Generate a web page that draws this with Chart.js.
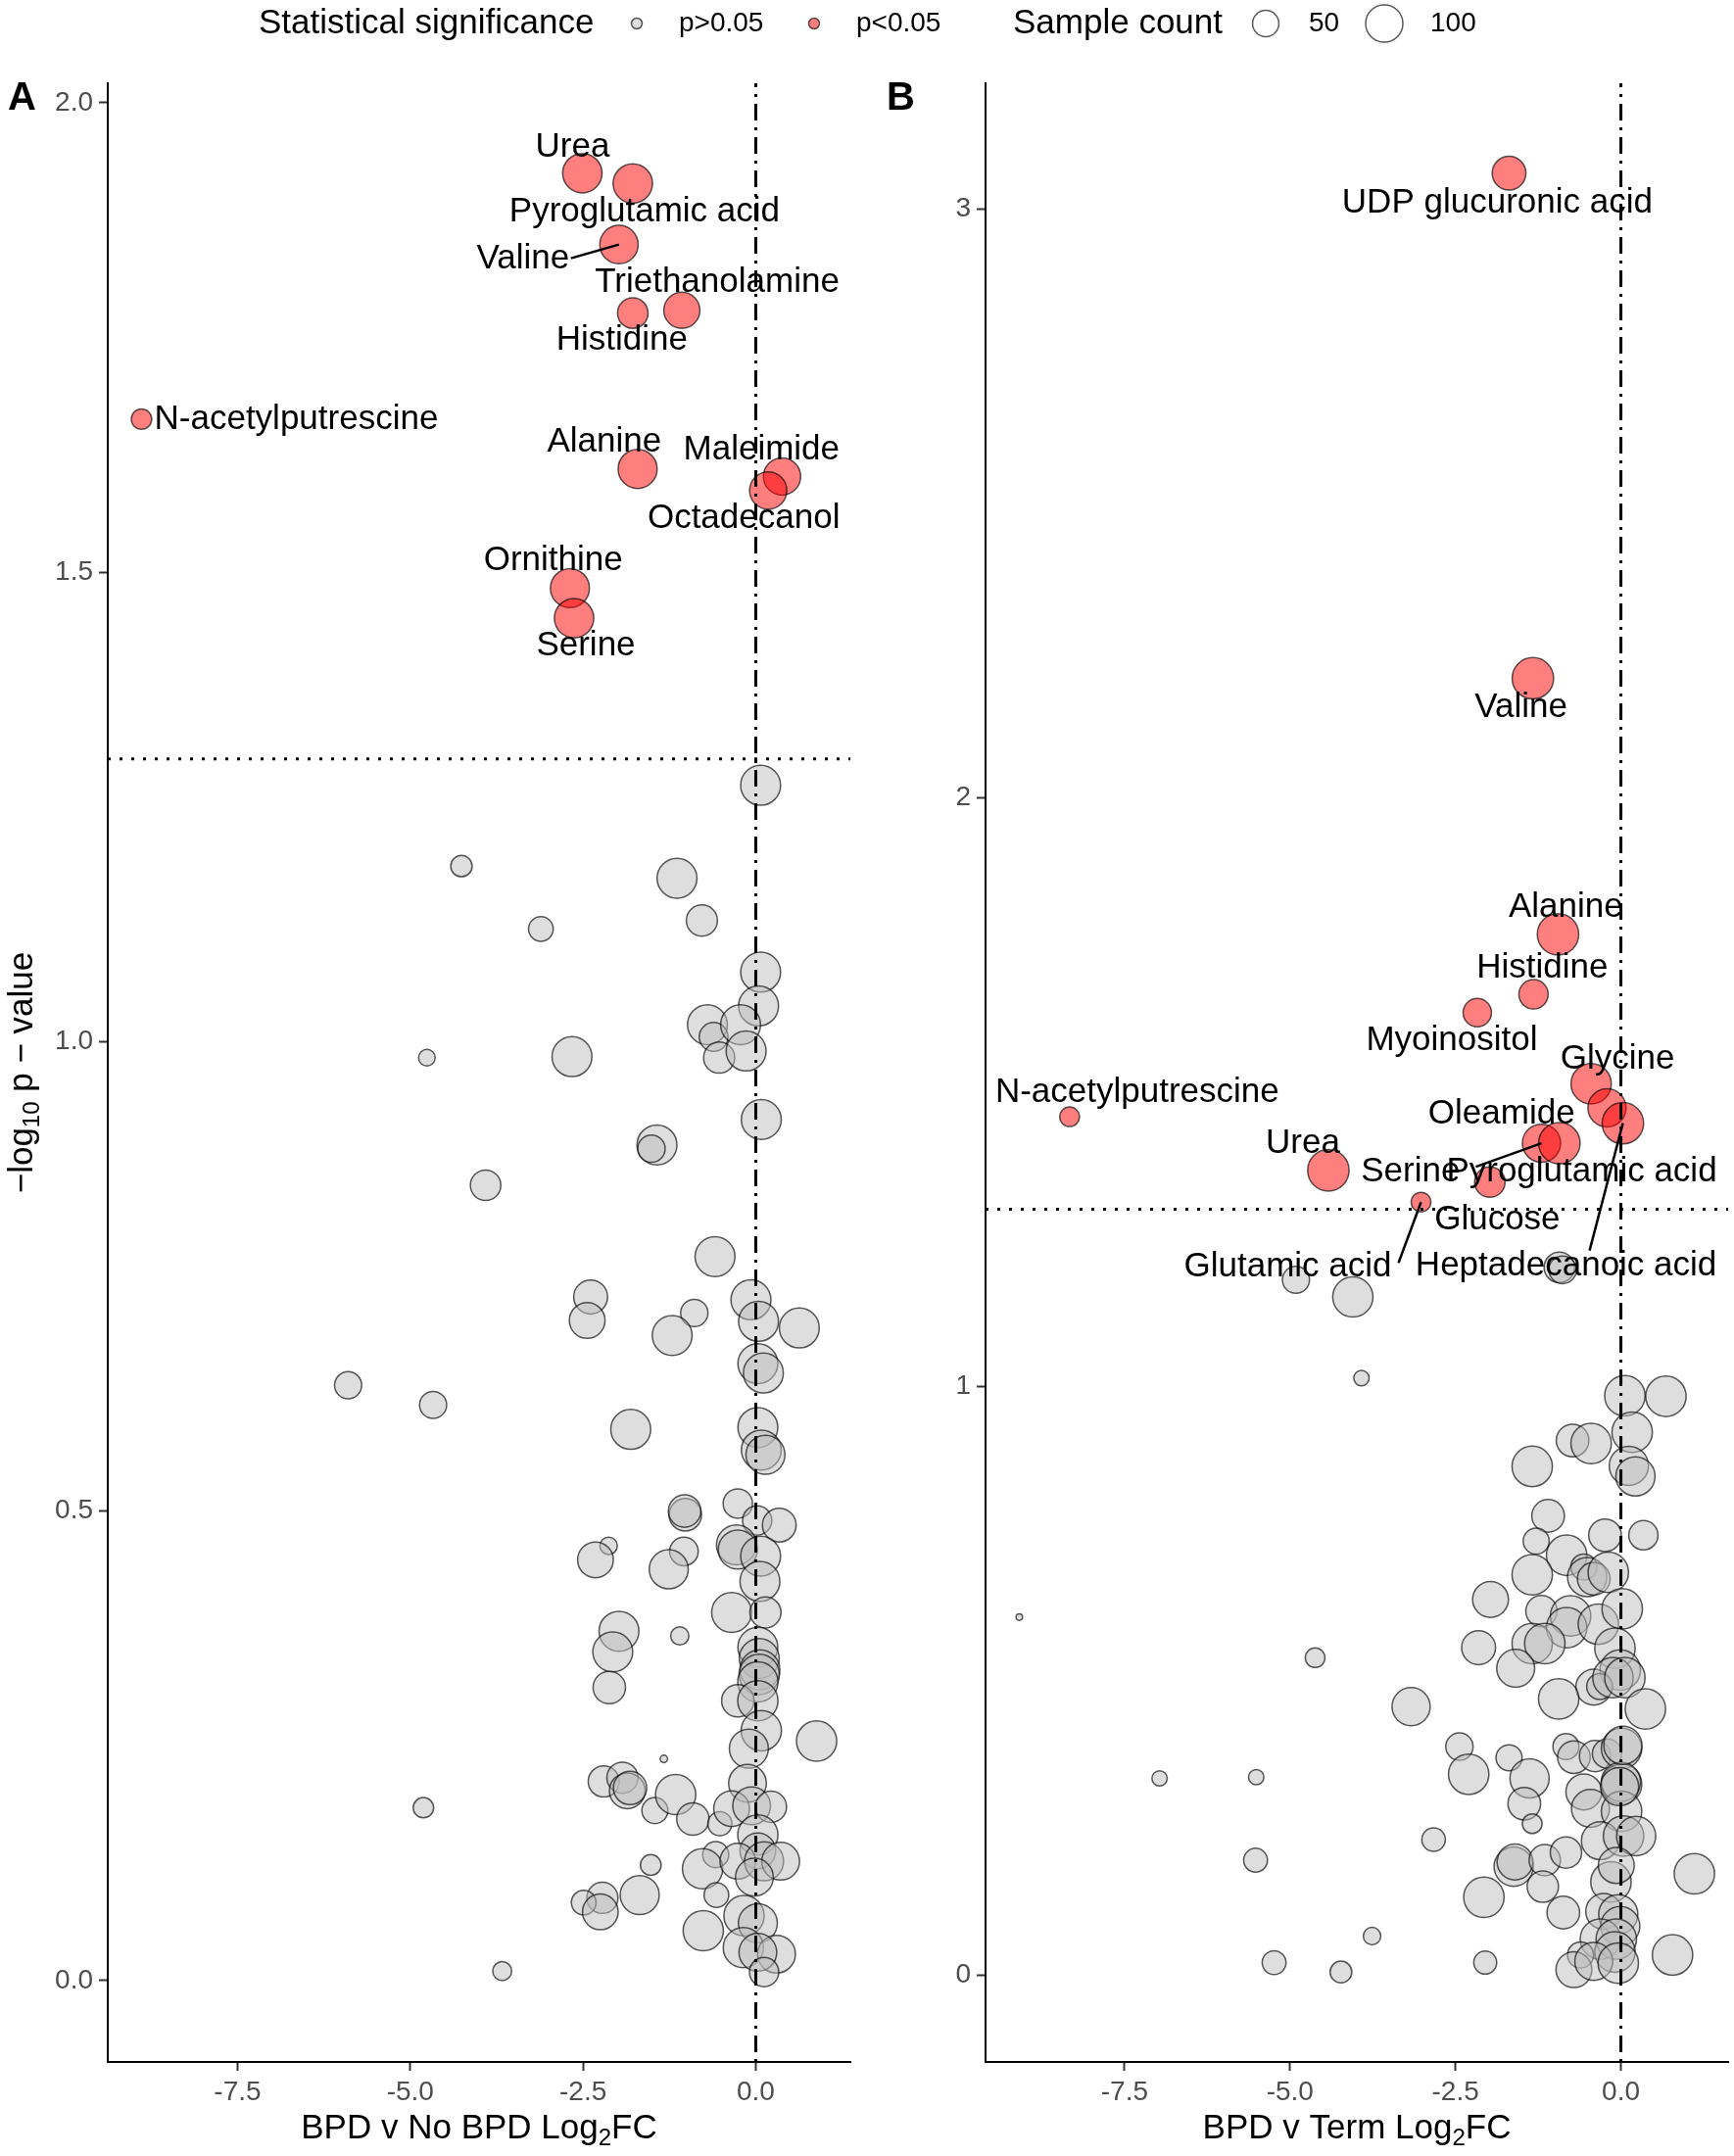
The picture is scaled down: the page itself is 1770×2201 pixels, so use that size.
<!DOCTYPE html>
<html>
<head>
<meta charset="utf-8">
<script src="https://cdn.jsdelivr.net/npm/chart.js@4.4.1/dist/chart.umd.min.js"></script>
<style>
  html, body { margin: 0; padding: 0; background: #fff; overflow: hidden; }
  #wrap { position: relative; width: 1770px; height: 2201px; overflow: hidden; }
  canvas { position: absolute; left: 0; top: 0; }
</style>
</head>
<body>
<div id="wrap">
  <canvas id="chartA" width="1770" height="2201"></canvas>
  <canvas id="chartB" width="1800" height="2201"></canvas>
</div>
<script>
const P_CUTOFF = -Math.log10(0.05);
const X_TICKS = [-7.5, -5, -2.5, 0];
const Y_TICKS_A = [0, 0.5, 1, 1.5, 2];
const Y_TICKS_B = [0, 1, 2, 3];

// ---- Panel A : BPD v No BPD ----
const sigNamesA = ['Urea', 'Pyroglutamic acid', 'Valine', 'Triethanolamine', 'Histidine',
  'N-acetylputrescine', 'Alanine', 'Maleimide', 'Octadecanol', 'Ornithine', 'Serine'];
const sigFcA = [-2.51, -1.78, -1.98, -1.07, -1.78, -8.89, -1.71, 0.38, 0.18, -2.69, -2.63];
const sigLogPA = [1.925, 1.914, 1.849, 1.779, 1.776, 1.663, 1.610, 1.602, 1.587, 1.483, 1.451];
const sigCountA = [112, 112, 106, 94, 67, 30, 110, 100, 100, 110, 112];

const nsFcA = [0.07, -4.26, -1.14, -3.11, -0.78, 0.07, 0.04, -0.70, -0.61, -0.22,
  -0.53, -0.14, -4.76, -2.66, 0.08, -1.43, -1.51, -3.91, -0.59, -2.39,
  -2.44, -0.07, -0.89, -1.21, 0.04, 0.63, 0.03, 0.11, -5.90, -4.67,
  0.03, -1.81, 0.08, 0.14, -0.26, -1.02, -1.03, 0.02, 0.34, -0.28,
  -0.26, 0.07, -2.13, -2.32, -1.04, -1.26, 0.06, -0.35, 0.14, -1.98,
  -2.07, -1.10, 0.03, 0.05, 0.06, -2.12, 0.05, 0.03, -0.26, 0.03,
  0.08, -0.10, 0.88, -1.33, -2.20, -1.93, -1.86, -1.82, -1.46, -1.16,
  -0.91, -0.52, -0.12, -0.35, -0.06, 0.22, 0.03, 0.03, -0.58, -1.52,
  -0.77, -0.26, 0.12, 0.36, -0.02, -0.57, -1.68, -2.22, -2.49, -2.25,
  -0.17, 0.03, -0.76, -0.18, 0.30, 0.03, 0.12, -4.81, -3.67];
const nsLogPA = [1.273, 1.187, 1.174, 1.120, 1.129, 1.074, 1.038, 1.018, 1.005, 1.018,
  0.983, 0.990, 0.983, 0.984, 0.917, 0.890, 0.886, 0.847, 0.771, 0.728,
  0.703, 0.725, 0.711, 0.687, 0.702, 0.695, 0.657, 0.647, 0.634, 0.613,
  0.589, 0.587, 0.565, 0.560, 0.508, 0.496, 0.500, 0.490, 0.485, 0.464,
  0.459, 0.452, 0.463, 0.448, 0.457, 0.438, 0.425, 0.392, 0.392, 0.372,
  0.350, 0.367, 0.355, 0.343, 0.331, 0.312, 0.326, 0.318, 0.298, 0.298,
  0.266, 0.247, 0.255, 0.236, 0.212, 0.216, 0.202, 0.205, 0.181, 0.198,
  0.172, 0.167, 0.210, 0.183, 0.186, 0.185, 0.155, 0.138, 0.134, 0.123,
  0.119, 0.127, 0.127, 0.127, 0.110, 0.091, 0.091, 0.088, 0.083, 0.073,
  0.069, 0.061, 0.053, 0.035, 0.028, 0.030, 0.009, 0.184, 0.010];
const nsCountA = [115, 33, 115, 44, 70, 115, 115, 115, 60, 115,
  70, 115, 20, 115, 115, 115, 54, 67, 115, 83,
  92, 115, 54, 115, 115, 115, 115, 115, 53, 53,
  115, 115, 115, 110, 62, 76, 76, 62, 82, 115,
  110, 115, 22, 92, 59, 110, 115, 115, 70, 115,
  115, 24, 115, 115, 115, 76, 117, 117, 76, 117,
  117, 110, 117, 4, 70, 70, 92, 80, 49, 117,
  76, 42, 103, 92, 103, 70, 117, 92, 49, 31,
  117, 92, 110, 103, 103, 44, 110, 70, 44, 92,
  117, 110, 117, 117, 103, 103, 62, 30, 26];

// ---- Panel B : BPD v Term ----
const sigNamesB = ['UDP glucuronic acid', 'Valine', 'Alanine', 'Histidine', 'Myoinositol',
  'Glycine', 'Glucose', 'Heptadecanoic acid', 'Pyroglutamic acid', 'Oleamide', 'Serine',
  'Urea', 'N-acetylputrescine', 'Glutamic acid'];
const sigFcB = [-1.69, -1.33, -0.95, -1.32, -2.17, -0.45, -0.21, 0.03, -1.20, -0.93, -1.98,
  -4.42, -8.33, -3.02];
const sigLogPB = [3.061, 2.203, 1.768, 1.666, 1.635, 1.514, 1.473, 1.447, 1.413, 1.413, 1.347,
  1.367, 1.458, 1.313];
const sigCountB = [82, 124, 124, 62, 58, 117, 105, 124, 105, 124, 67, 124, 28, 28];

const nsFcB = [-0.93, -0.88, -4.91, -4.05, -3.92, -9.09, -4.62, -3.17, -6.97, -5.51,
  -2.83, -5.52, -2.44, -2.30, -2.07, -3.76, -5.24, -4.23, -2.05, 0.06,
  0.68, -0.73, -0.45, 0.17, 0.12, 0.22, -1.34, -1.10, -0.24, 0.34,
  -1.28, -0.82, -1.34, -0.56, -0.51, -0.41, -0.19, -1.97, -1.20, -0.76,
  -0.82, -0.34, 0.02, -2.15, -1.34, -1.15, -0.09, -1.59, -0.01, -0.41,
  -0.32, -0.12, 0.06, -0.94, 0.37, -1.69, -1.38, -1.46, -1.34, -0.83,
  -0.71, -0.39, -0.21, 0.01, 0.01, 0.00, -0.56, -0.46, 0.01, -0.31,
  0.04, 0.23, -1.62, -1.60, -1.15, -0.83, -1.18, -0.15, -0.07, 1.11,
  -0.87, -0.26, -0.04, -0.01, -0.31, -0.07, -0.09, -0.61, -0.71, -0.41,
  -0.04, 0.78, 0.03, -0.02];
const nsLogPB = [1.202, 1.198, 1.181, 1.152, 1.014, 0.608, 0.539, 0.456, 0.334, 0.336,
  0.230, 0.195, 0.388, 0.341, 0.132, 0.066, 0.021, 0.005, 0.021, 0.984,
  0.983, 0.908, 0.903, 0.922, 0.865, 0.847, 0.864, 0.780, 0.747, 0.747,
  0.737, 0.713, 0.680, 0.693, 0.676, 0.673, 0.684, 0.638, 0.618, 0.610,
  0.590, 0.596, 0.622, 0.556, 0.563, 0.563, 0.555, 0.521, 0.518, 0.489,
  0.490, 0.505, 0.505, 0.469, 0.452, 0.369, 0.334, 0.291, 0.257, 0.388,
  0.370, 0.372, 0.376, 0.385, 0.324, 0.328, 0.311, 0.283, 0.278, 0.228,
  0.236, 0.236, 0.184, 0.192, 0.195, 0.208, 0.150, 0.158, 0.186, 0.172,
  0.106, 0.108, 0.103, 0.083, 0.061, 0.061, 0.039, 0.034, 0.009, 0.023,
  0.020, 0.034, 0.390, 0.320];
const nsCountB = [67, 55, 53, 117, 17, 3, 28, 105, 17, 17,
  40, 41, 54, 118, 118, 22, 41, 34, 38, 118,
  118, 77, 118, 118, 111, 111, 118, 77, 77, 62,
  49, 118, 118, 49, 111, 77, 118, 93, 71, 118,
  118, 118, 118, 83, 118, 118, 118, 104, 118, 93,
  49, 118, 118, 118, 118, 49, 111, 77, 28, 49,
  77, 71, 62, 118, 118, 111, 93, 104, 118, 104,
  118, 111, 111, 93, 71, 71, 71, 118, 93, 118,
  77, 93, 111, 111, 118, 118, 118, 49, 93, 104,
  118, 118, 105, 105];

// label placement (pixel offsets of label centre from its point), and repel segments
const labelOffsetA = {
  'Urea': [-10, -26], 'Pyroglutamic acid': [12, 29], 'Valine': [-98, 15],
  'Triethanolamine': [36, -28], 'Histidine': [-11, 28], 'N-acetylputrescine': [158, 0],
  'Alanine': [-34, -27], 'Maleimide': [-21, -27], 'Octadecanol': [-25, 29],
  'Ornithine': [-17, -28], 'Serine': [12, 28]
};
const segmentA = { 'Valine': [-49, 14] };
const labelOffsetB = {
  'UDP glucuronic acid': [-12, 31], 'Valine': [-12, 30], 'Alanine': [8, -27],
  'Histidine': [9, -27], 'Myoinositol': [-26, 29], 'Glycine': [27, -25],
  'N-acetylputrescine': [69, -25], 'Oleamide': [-59, -30], 'Urea': [-26, -27],
  'Pyroglutamic acid': [41, 29], 'Serine': [-81, -10], 'Glucose': [-112, 114],
  'Glutamic acid': [-136, 66], 'Heptadecanoic acid': [-58, 146]
};
const segmentB = {
  'Pyroglutamic acid': [-67, 24], 'Glutamic acid': [-23, 62], 'Heptadecanoic acid': [-34, 130]
};

const FONT = "'Liberation Sans', Arial, sans-serif";
Chart.defaults.font.family = FONT;

const sizeToRadius = n => 1.9 * Math.sqrt(n);
function bubbles(fc, lp, n) {
  return fc.map((v, i) => ({ x: v, y: lp[i], r: sizeToRadius(n[i]) }));
}
function expand(vals) {
  const lo = Math.min(...vals), hi = Math.max(...vals), pad = (hi - lo) * 0.05;
  return [lo - pad, hi + pad];
}

function drawRich(ctx, parts, x, y) {
  // parts: [text, isSubscript]
  let total = 0;
  parts.forEach(p => { ctx.font = p[1] ? '24px ' + FONT : '35px ' + FONT; total += ctx.measureText(p[0]).width; });
  let cx = x - total / 2;
  ctx.textAlign = 'left';
  parts.forEach(p => {
    ctx.font = p[1] ? '24px ' + FONT : '35px ' + FONT;
    ctx.fillText(p[0], cx, y + (p[1] ? 10 : 0));
    cx += ctx.measureText(p[0]).width;
  });
}

function drawLegend(ctx) {
  const cy = 24;
  ctx.save();
  ctx.fillStyle = '#000';
  ctx.textBaseline = 'middle';
  ctx.textAlign = 'left';
  ctx.font = '35px ' + FONT;
  ctx.fillText('Statistical significance', 264, cy);
  ctx.fillText('Sample count', 1034, cy);
  ctx.font = '28px ' + FONT;
  ctx.fillText('p>0.05', 693, cy);
  ctx.fillText('p<0.05', 874, cy);
  ctx.fillText('50', 1336, cy);
  ctx.fillText('100', 1460, cy);
  const keys = [[650, 5.5, 'rgba(190,190,190,0.5)'], [831, 5.5, 'rgba(255,0,0,0.5)'],
    [1292, sizeToRadius(50), '#fff'], [1413, sizeToRadius(100), '#fff']];
  ctx.lineWidth = 1.5;
  ctx.strokeStyle = 'rgba(0,0,0,0.65)';
  keys.forEach(k => {
    ctx.beginPath();
    ctx.arc(k[0], cy, k[1], 0, Math.PI * 2);
    ctx.fillStyle = k[2];
    ctx.fill();
    ctx.stroke();
  });
  ctx.restore();
}

function makePlugin(panel) {
  return {
    id: 'panelExtras',
    afterDatasetsDraw(chart) {
      const { ctx, chartArea: ca, scales: { x, y } } = chart;
      ctx.save();
      ctx.strokeStyle = '#000';
      ctx.lineWidth = 3;
      ctx.setLineDash([3, 9]);
      const yh = y.getPixelForValue(P_CUTOFF);
      ctx.beginPath(); ctx.moveTo(ca.left, yh); ctx.lineTo(ca.right, yh); ctx.stroke();
      ctx.setLineDash([3, 7, 17, 7]);
      const xv = x.getPixelForValue(0);
      ctx.beginPath(); ctx.moveTo(xv, ca.bottom); ctx.lineTo(xv, ca.top); ctx.stroke();
      ctx.setLineDash([]);

      ctx.fillStyle = '#000';
      ctx.font = '35px ' + FONT;
      ctx.textAlign = 'center';
      ctx.textBaseline = 'middle';
      panel.names.forEach((name, i) => {
        if (!name) return;
        const px = x.getPixelForValue(panel.fc[i]);
        const py = y.getPixelForValue(panel.lp[i]);
        const seg = panel.segments[name];
        if (seg) {
          ctx.lineWidth = 2.5;
          ctx.beginPath();
          ctx.moveTo(px + seg[0], py + seg[1]);
          ctx.lineTo(px, py);
          ctx.stroke();
        }
        const off = panel.offsets[name] || [0, -28];
        ctx.fillText(name, px + off[0], py + off[1]);
      });
      ctx.restore();
    },
    afterDraw(chart) {
      const { ctx, chartArea: ca } = chart;
      ctx.save();
      ctx.fillStyle = '#000';
      ctx.textBaseline = 'middle';
      drawRich(ctx, panel.xTitle, (ca.left + ca.right) / 2, 2173);
      ctx.font = 'bold 40px ' + FONT;
      ctx.textAlign = 'left';
      ctx.fillText(panel.tag, panel.tagX, 101);
      if (panel.yTitle) {
        ctx.translate(23, (ca.top + ca.bottom) / 2);
        ctx.rotate(-Math.PI / 2);
        drawRich(ctx, panel.yTitle, 0, 0);
      }
      ctx.restore();
      if (panel.legend) drawLegend(ctx);
    }
  };
}

function makeChart(id, panel) {
  const xr = expand(panel.allFc), yr = expand(panel.allLp);
  return new Chart(document.getElementById(id), {
    type: 'bubble',
    data: {
      datasets: [
        { label: 'p>0.05', data: panel.ns, backgroundColor: 'rgba(190,190,190,0.5)',
          borderColor: 'rgba(0,0,0,0.65)', borderWidth: 1.5, clip: false },
        { label: 'p<0.05', data: panel.sig, backgroundColor: 'rgba(255,0,0,0.5)',
          borderColor: 'rgba(0,0,0,0.65)', borderWidth: 1.5, clip: false }
      ]
    },
    options: {
      responsive: false,
      animation: false,
      devicePixelRatio: 1,
      layout: { padding: { top: 85, right: panel.padRight, bottom: 0, left: 0 } },
      plugins: { legend: { display: false }, tooltip: { enabled: false } },
      elements: { point: { hoverRadius: 0 } },
      scales: {
        x: {
          type: 'linear', min: xr[0], max: xr[1],
          afterBuildTicks: s => { s.ticks = X_TICKS.map(v => ({ value: v })); },
          afterFit: s => { s.height = 96; },
          ticks: { callback: v => v.toFixed(1), color: '#4D4D4D', font: { size: 28 },
            padding: 5, maxRotation: 0, autoSkip: false },
          grid: { drawOnChartArea: false, tickLength: 9, tickWidth: 2, tickColor: '#333' },
          border: { color: '#000', width: 2 }
        },
        y: {
          type: 'linear', min: yr[0], max: yr[1],
          afterBuildTicks: s => { s.ticks = panel.yTicks.map(v => ({ value: v })); },
          afterFit: s => { s.width = panel.yAxisWidth; },
          ticks: { callback: panel.yFmt, color: '#4D4D4D', font: { size: 28 }, padding: 6, autoSkip: false },
          grid: { drawOnChartArea: false, tickLength: 9, tickWidth: 2, tickColor: '#333' },
          border: { color: '#000', width: 2 }
        }
      }
    },
    plugins: [makePlugin(panel)]
  });
}

makeChart('chartA', {
  ns: bubbles(nsFcA, nsLogPA, nsCountA),
  sig: bubbles(sigFcA, sigLogPA, sigCountA),
  allFc: nsFcA.concat(sigFcA), allLp: nsLogPA.concat(sigLogPA),
  names: sigNamesA, fc: sigFcA, lp: sigLogPA,
  offsets: labelOffsetA, segments: segmentA,
  yTicks: Y_TICKS_A, yFmt: v => v.toFixed(1), yAxisWidth: 110, padRight: 1770 - 868,
  xTitle: [['BPD v No BPD Log', false], ['2', true], ['FC', false]],
  yTitle: [['\u2212log', false], ['10', true], [' p \u2212 value', false]],
  tag: 'A', tagX: 8, legend: true
});

// canvas B is 1800 wide so the bubble overflow padding lands beyond the page edge
makeChart('chartB', {
  ns: bubbles(nsFcB, nsLogPB, nsCountB),
  sig: bubbles(sigFcB, sigLogPB, sigCountB),
  allFc: nsFcB.concat(sigFcB), allLp: nsLogPB.concat(sigLogPB),
  names: sigNamesB, fc: sigFcB, lp: sigLogPB,
  offsets: labelOffsetB, segments: segmentB,
  yTicks: Y_TICKS_B, yFmt: v => String(v), yAxisWidth: 1006, padRight: 1800 - 1764,
  xTitle: [['BPD v Term Log', false], ['2', true], ['FC', false]],
  yTitle: null,
  tag: 'B', tagX: 905, legend: false
});
</script>
</body>
</html>
